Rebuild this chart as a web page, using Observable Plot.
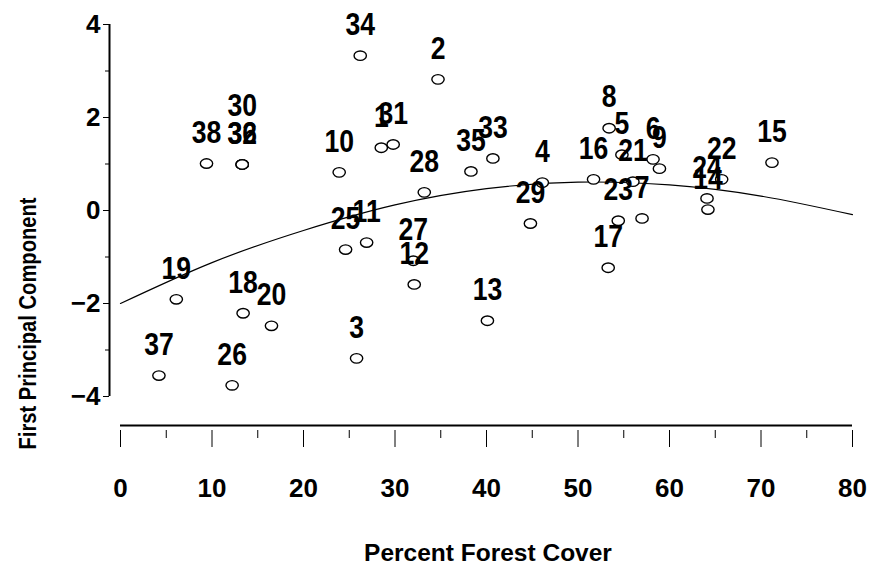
<!DOCTYPE html>
<html>
<head>
<meta charset="utf-8">
<script src="https://cdn.jsdelivr.net/npm/d3@7"></script>
<script src="https://cdn.jsdelivr.net/npm/@observablehq/plot@0.6"></script>
<style>
  body { margin: 0; background: #fff; }
  #chart svg { font-family: "Liberation Sans", Arial, Helvetica, sans-serif; }
</style>
</head>
<body>
<div id="chart"></div>
<script>
// Site numbers
const ids = [1,2,3,4,5,6,7,8,9,10,11,12,13,14,15,16,17,18,19,20,21,22,23,24,25,26,27,28,29,30,31,32,33,34,35,36,37,38];
// Percent forest cover (x)
const forest = [28.5,34.7,25.8,46.1,54.8,58.2,57.0,53.4,58.9,23.9,26.9,32.1,40.1,64.2,71.2,51.7,53.3,13.4,6.1,16.5,56.0,65.7,54.4,64.1,24.6,12.2,32.0,33.2,44.8,13.3,29.8,13.3,40.7,26.2,38.3,13.3,4.2,9.4];
// First principal component (y)
const pc1 = [1.35,2.82,-3.18,0.60,1.20,1.10,-0.17,1.77,0.90,0.82,-0.69,-1.59,-2.37,0.02,1.03,0.67,-1.23,-2.21,-1.91,-2.48,0.62,0.67,-0.22,0.26,-0.84,-3.76,-1.08,0.39,-0.28,0.99,1.42,0.99,1.12,3.33,0.84,0.99,-3.55,1.01];
// Fitted curve
const curveX = [0,10,20,30,40,50,60,70,80];
const curveY = [-2.00,-1.12,-0.43,0.12,0.47,0.61,0.55,0.31,-0.09];
// Ticks
const xTicks = [0,10,20,30,40,50,60,70,80];
const xMinorTicks = [5,15,25,35,45,55,65,75];
const yTicks = [-4,-2,0,2,4];
const yMinorTicks = [-3,-1,1,3];
const xTitle = "Percent Forest Cover";
const yTitle = "First Principal Component";

const points = ids.map((id, i) => ({id, x: forest[i], y: pc1[i]}));
// labels of coincident points: lowest id is lifted above the others
for (const g of d3.group(points, d => d.x + "," + d.y).values()) {
  if (g.length > 1) d3.least(g, d => d.id).raised = true;
}
const curve = curveX.map((x, i) => ({x, y: curveY[i]}));

const ellipse = {
  draw(ctx, size) {
    const r = Math.sqrt(size / Math.PI), rx = r * 1.12, ry = r * 0.86, k = 0.5523;
    ctx.moveTo(rx, 0);
    ctx.bezierCurveTo(rx, ry * k, rx * k, ry, 0, ry);
    ctx.bezierCurveTo(-rx * k, ry, -rx, ry * k, -rx, 0);
    ctx.bezierCurveTo(-rx, -ry * k, -rx * k, -ry, 0, -ry);
    ctx.bezierCurveTo(rx * k, -ry, rx, -ry * k, rx, 0);
    ctx.closePath();
  }
};

const font = {fontWeight: "bold"};

const chart = Plot.plot({
  width: 869,
  height: 575,
  marginLeft: 109,
  marginRight: 17,
  marginTop: 24,
  marginBottom: 145,
  x: {domain: [0, 80], range: [120, 852]},
  y: {domain: [-4, 4], range: [396, 24]},
  style: {background: "white", color: "black"},
  marks: [
    // y axis
    Plot.ruleX([0], {y1: -4, y2: 4, dx: -11, strokeWidth: 2}),
    Plot.axisY(yTicks, {tickSize: 6, tickPadding: 3, fontSize: 26, ...font, label: null}),
    Plot.axisY(yMinorTicks, {tickSize: 4, tickFormat: () => "", label: null}),
    // x axis
    Plot.ruleY([-4], {x1: 0, x2: 80, dy: 29, strokeWidth: 2}),
    Plot.axisX(xTicks, {tickSize: 17, tickPadding: 31, fontSize: 26, ...font, label: null}),
    Plot.axisX(xMinorTicks, {tickSize: 8, tickFormat: () => "", label: null}),
    // titles
    Plot.text([xTitle], {frameAnchor: "bottom", textAnchor: "middle", dy: 123, dx: 7, fontSize: 24.5, lineAnchor: "middle", ...font}),
    Plot.text([yTitle], {frameAnchor: "left", textAnchor: "middle", rotate: -90, dx: -81, dy: 96, fontSize: 24, lineAnchor: "middle", ariaDescription: "ytitle", ...font}),
    // curve
    Plot.line(curve, {x: "x", y: "y", curve: "natural", strokeWidth: 1.2}),
    // points
    Plot.dot(points, {x: "x", y: "y", r: 5.5, symbol: ellipse, fill: "white", stroke: "black", strokeWidth: 1.4}),
    // labels
    Plot.text(points.filter(d => !d.raised), {x: "x", y: "y", text: d => String(d.id), dy: -31, fontSize: 32, lineAnchor: "middle", ariaDescription: "plabel", ...font}),
    Plot.text(points.filter(d => d.raised), {x: "x", y: "y", text: d => String(d.id), dy: -59, fontSize: 32, lineAnchor: "middle", ariaDescription: "plabel", ...font})
  ]
});

document.getElementById("chart").appendChild(chart);

// condense some texts horizontally (narrow typeface in the reference)
function squeeze(desc, sx) {
  d3.select(chart).selectAll(`g[aria-description="${desc}"] text`).each(function() {
    const len = this.getComputedTextLength();
    if (len > 0) {
      this.setAttribute("textLength", (len * sx).toFixed(2));
      this.setAttribute("lengthAdjust", "spacingAndGlyphs");
    }
  });
}
squeeze("plabel", 0.83);
squeeze("ytitle", 0.84);
</script>
</body>
</html>
